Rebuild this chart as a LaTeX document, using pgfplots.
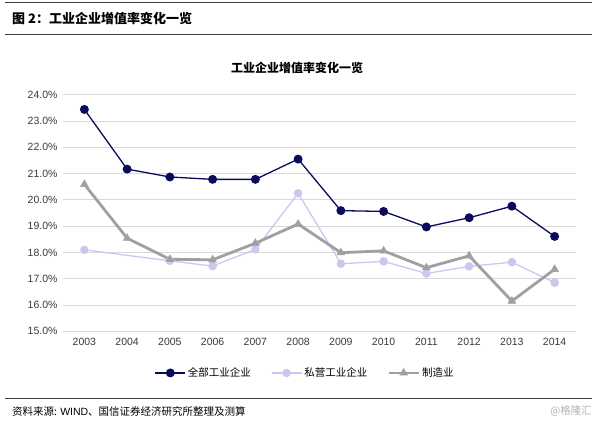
\documentclass[border=0pt]{standalone}
\usepackage{pgfplots}
\pgfplotsset{compat=1.18}
\usepackage{fontspec}
\setmainfont{Liberation Sans}
\newfontfamily\cjk{Noto Sans CJK SC}
\definecolor{navy}{HTML}{0B0B5E}
\definecolor{lav}{HTML}{C8C8F0}
\definecolor{mgray}{HTML}{A0A0A0}
\definecolor{tickc}{HTML}{3A3A3A}

\pgfplotstableread{
x all priv manu
0 23.44 18.10 20.59
1 21.17 nan 18.54
2 20.87 17.68 17.74
3 20.78 17.48 17.72
4 20.78 18.12 18.35
5 21.55 20.25 19.08
6 19.59 17.57 17.99
7 19.56 17.66 18.06
8 18.97 17.20 17.42
9 19.32 17.47 17.87
10 19.76 17.63 16.15
11 18.61 16.85 17.36
}\datatable

\begin{document}
\begin{tikzpicture}
\path (0pt,0pt) rectangle (600pt,424pt);
\draw[line width=1pt,color=black!75] (5pt,421pt)--(592pt,421pt);
\draw[line width=1pt,color=black!75] (5pt,389pt)--(592pt,389pt);
\draw[line width=1pt,color=black!75] (5pt,26pt)--(592pt,26pt);
\node[anchor=west,font=\cjk\bfseries\fontsize{13}{15}\selectfont,inner sep=0pt] at (12pt,406pt) {图 2：工业企业增值率变化一览};
\node[font=\cjk\bfseries\fontsize{12}{14}\selectfont,inner sep=0pt] at (297pt,356pt) {工业企业增值率变化一览};
\node[anchor=west,font=\cjk\fontsize{10.5}{12}\selectfont,inner sep=0pt] at (12pt,13pt) {资料来源: \textrm{WIND}、国信证券经济研究所整理及测算};
\node[anchor=east,font=\cjk\fontsize{10.5}{12}\selectfont,inner sep=0pt,text=black!30] at (592pt,13pt) {@格隆汇};
\begin{axis}[
  at={(63pt,92.7pt)}, anchor=south west,
  scale only axis, width=513pt, height=236.6pt,
  xmin=-0.5, xmax=11.5, ymin=15, ymax=24,
  xtick={0,...,11},
  xticklabels={2003,2004,2005,2006,2007,2008,2009,2010,2011,2012,2013,2014},
  ytick={15,16,...,24},
  yticklabel={\pgfmathprintnumber[fixed,fixed zerofill,precision=1]{\tick}\%},
  /pgf/number format/assume math mode=true,
  tick label style={font=\fontsize{10.5}{12}\selectfont, text=tickc},
  major tick length=0pt,
  axis line style={draw=none},
  ymajorgrids, grid style={color=black!15, line width=0.8pt},
  xtick style={draw=none}, ytick style={draw=none},
  yticklabel style={xshift=-2pt},
  xticklabel style={yshift=-3pt},
  clip=false,
  unbounded coords=discard,
  legend columns=3,
  legend style={at={(0.472,-0.176)}, anchor=center, draw=none, fill=none,
    font=\cjk\fontsize{10.5}{12}\selectfont,
    /tikz/every even column/.append style={column sep=18pt}},
  legend image code/.code={\draw[mark repeat=2,mark phase=2] plot coordinates {(0pt,0pt) (15pt,0pt) (30pt,0pt)};},
]
\addplot[color=navy, line width=1.3pt, mark=*, mark size=3.8pt, mark options={fill=navy}] table[x=x,y=all] {\datatable};
\addlegendentry{全部工业企业}
\addplot[color=lav, line width=1.3pt, mark=*, mark size=3.6pt, mark options={fill=lav}] table[x=x,y=priv] {\datatable};
\addlegendentry{私营工业企业}
\addplot[color=mgray, line width=2.8pt, mark=triangle*, mark size=4.5pt, mark options={fill=mgray,line width=0.5pt}] table[x=x,y=manu] {\datatable};
\addlegendentry{制造业}
\end{axis}
\end{tikzpicture}
\end{document}
